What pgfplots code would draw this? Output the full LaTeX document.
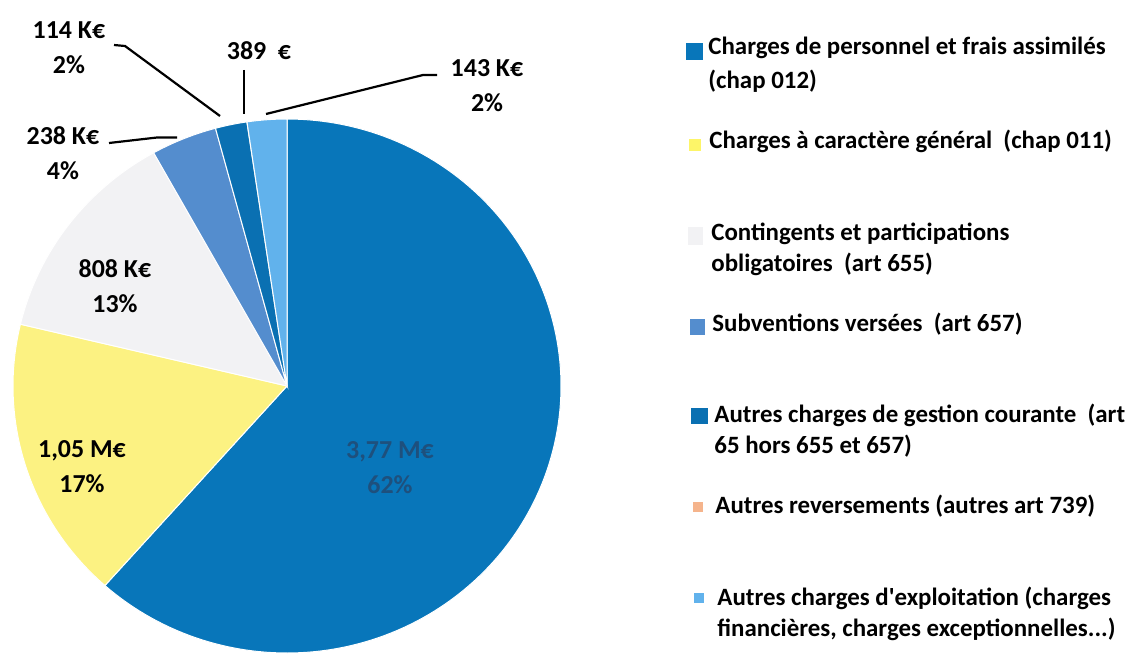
\documentclass[border=0pt]{standalone}
\usepackage{pgfplots}
\pgfplotsset{compat=1.18}
\usepackage{pgfplotstable}
\usepackage{fontspec}
\setmainfont{Carlito}

\definecolor{cA}{RGB}{8,118,186}
\definecolor{cB}{RGB}{252,242,130}
\definecolor{cC}{RGB}{242,242,244}
\definecolor{cD}{RGB}{84,141,206}
\definecolor{cE}{RGB}{10,112,178}
\definecolor{cF}{RGB}{245,180,140}
\definecolor{cG}{RGB}{97,178,236}
\definecolor{lbldark}{RGB}{30,80,125}

% values in K euros
\pgfplotstableread{
label value
personnel 3770
general 1050
contingents 808
subventions 238
gestion 114
reversements 0.389
exploitation 143
}\slices

\newcommand\lbl{\fontsize{13}{17.5}\selectfont\bfseries}
\newcommand\leg{\fontsize{12.5}{16}\selectfont\bfseries}

\begin{document}
\begin{tikzpicture}
\pgfplotstablegetelem{0}{value}\of\slices \let\vA=\pgfplotsretval
\pgfplotstablegetelem{1}{value}\of\slices \let\vB=\pgfplotsretval
\pgfplotstablegetelem{2}{value}\of\slices \let\vC=\pgfplotsretval
\pgfplotstablegetelem{3}{value}\of\slices \let\vD=\pgfplotsretval
\pgfplotstablegetelem{4}{value}\of\slices \let\vE=\pgfplotsretval
\pgfplotstablegetelem{5}{value}\of\slices \let\vF=\pgfplotsretval
\pgfplotstablegetelem{6}{value}\of\slices \let\vG=\pgfplotsretval
\pgfmathsetmacro\tot{\vA+\vB+\vC+\vD+\vE+\vF+\vG}
\pgfmathsetmacro\aA{90}
\pgfmathsetmacro\aB{\aA-\vA/\tot*360}
\pgfmathsetmacro\aC{\aB-\vB/\tot*360}
\pgfmathsetmacro\aD{\aC-\vC/\tot*360}
\pgfmathsetmacro\aE{\aD-\vD/\tot*360}
\pgfmathsetmacro\aF{\aE-\vE/\tot*360}
\pgfmathsetmacro\aG{\aF-\vF/\tot*360}
\pgfmathsetmacro\aH{\aG-\vG/\tot*360}
\def\cx{287}\def\cy{386}\def\rx{274}\def\ry{267}
\begin{axis}[
  scale only axis, width=567bp, height=327bp,
  xmin=0, xmax=1134, ymin=0, ymax=654, y dir=reverse,
  hide axis, clip=false,
]
\path (rel axis cs:0,0) rectangle (rel axis cs:1,1);
\addplot[fill=cA, draw=white, line width=0.5bp, domain=\aB:\aA, samples=150, variable=\t]
  ({\cx+\rx*cos(\t)}, {\cy-\ry*sin(\t)}) -- (\cx,\cy) -- cycle;
\addplot[fill=cB, draw=white, line width=0.5bp, domain=\aC:\aB, samples=50, variable=\t]
  ({\cx+\rx*cos(\t)}, {\cy-\ry*sin(\t)}) -- (\cx,\cy) -- cycle;
\addplot[fill=cC, draw=white, line width=0.5bp, domain=\aD:\aC, samples=40, variable=\t]
  ({\cx+\rx*cos(\t)}, {\cy-\ry*sin(\t)}) -- (\cx,\cy) -- cycle;
\addplot[fill=cD, draw=white, line width=0.5bp, domain=\aE:\aD, samples=15, variable=\t]
  ({\cx+\rx*cos(\t)}, {\cy-\ry*sin(\t)}) -- (\cx,\cy) -- cycle;
\addplot[fill=cE, draw=white, line width=0.5bp, domain=\aF:\aE, samples=10, variable=\t]
  ({\cx+\rx*cos(\t)}, {\cy-\ry*sin(\t)}) -- (\cx,\cy) -- cycle;
\addplot[fill=cF, draw=none, domain=\aG:\aF, samples=2, variable=\t]
  ({\cx+\rx*cos(\t)}, {\cy-\ry*sin(\t)}) -- (\cx,\cy) -- cycle;
\addplot[fill=cG, draw=white, line width=0.5bp, domain=\aH:\aG, samples=10, variable=\t]
  ({\cx+\rx*cos(\t)}, {\cy-\ry*sin(\t)}) -- (\cx,\cy) -- cycle;

% leader lines
\draw[black, line width=1.1bp] (114,45) -- (125,46) -- (220,116);
\draw[black, line width=1.1bp] (244,70) -- (244,114);
\draw[black, line width=1.1bp] (437,75) -- (423,75) -- (266,114);
\draw[black, line width=1.1bp] (109,143) -- (157,137.5) -- (177,137.5);

% data labels
\node[font=\lbl, align=center, inner sep=0pt] at (69,48) {114 K€\\2\%};
\node[font=\lbl, inner sep=0pt] at (259,51) {389\ \ €};
\node[font=\lbl, align=center, inner sep=0pt] at (487,86) {143 K€\\2\%};
\node[font=\lbl, align=center, inner sep=0pt] at (63,153) {238 K€\\4\%};
\node[font=\lbl, align=center, inner sep=0pt] at (115,286) {808 K€\\13\%};
\node[font=\lbl, align=center, inner sep=0pt] at (82,467) {1,05 M€\\17\%};
\node[font=\lbl, align=center, inner sep=0pt, text=lbldark] at (390,468) {3,77 M€\\62\%};

% legend swatches
\fill[cA] (686,43) rectangle (703,60);
\fill[cB!80!yellow] (689,139) rectangle (701,151);
\fill[cC] (688,227) rectangle (703,245);
\fill[cD] (690,319) rectangle (705,335);
\fill[cE] (691,408) rectangle (708,424);
\fill[cF] (693,502) rectangle (703,512);
\fill[cG] (694,593) rectangle (704,603);

% legend texts
\node[font=\leg, anchor=base west, inner sep=0pt] at (708,55) {Charges de personnel et frais assimilés};
\node[font=\leg, anchor=base west, inner sep=0pt] at (708,88) {(chap 012)};
\node[font=\leg, anchor=base west, inner sep=0pt] at (709,148) {Charges à caractère général\ \ (chap 011)};
\node[font=\leg, anchor=base west, inner sep=0pt] at (711,240) {Contingents et participations};
\node[font=\leg, anchor=base west, inner sep=0pt] at (711,271) {obligatoires\ \ (art 655)};
\node[font=\leg, anchor=base west, inner sep=0pt] at (712,331) {Subventions versées\ \ (art 657)};
\node[font=\leg, anchor=base west, inner sep=0pt] at (714,422) {Autres charges de gestion courante\ \ (art};
\node[font=\leg, anchor=base west, inner sep=0pt] at (714,453) {65 hors 655 et 657)};
\node[font=\leg, anchor=base west, inner sep=0pt] at (715,513) {Autres reversements (autres art 739)};
\node[font=\leg, anchor=base west, inner sep=0pt] at (717,605) {Autres charges d\textquotesingle exploitation (charges};
\node[font=\leg, anchor=base west, inner sep=0pt] at (717,636) {financières, charges exceptionnelles...)};
\end{axis}
\end{tikzpicture}
\end{document}
